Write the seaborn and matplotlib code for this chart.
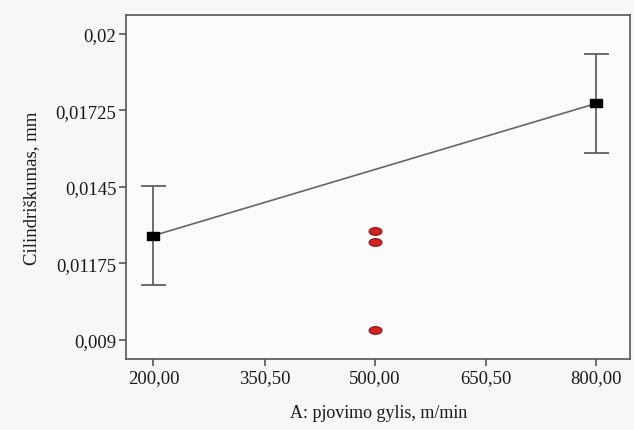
import matplotlib.pyplot as plt
import pandas as pd
import seaborn as sns
from matplotlib.markers import MarkerStyle
from matplotlib.transforms import Affine2D

# factor levels and predicted means with error bar half-widths
speed = [200.0, 800.0]
mean_cyl = [0.01275, 0.0175]
err_cyl = [0.00178, 0.00178]

# observed design points at the centre level
obs_speed = [500.0, 500.0, 500.0]
obs_cyl = [0.01291, 0.01251, 0.00936]

x_ticks = [200.0, 350.5, 500.0, 650.5, 800.0]
x_labels = ["200,00", "350,50", "500,00", "650,50", "800,00"]
y_ticks = [0.009, 0.01175, 0.0145, 0.01725, 0.02]
y_labels = ["0,009", "0,01175", "0,0145", "0,01725", "0,02"]

sns.set_style("white")
plt.rcParams["font.family"] = ["Liberation Serif", "DejaVu Serif"]

fig = plt.figure(figsize=(6.34, 4.31), dpi=100, facecolor="#f7f7f7")
ax = fig.add_axes([0.199, 0.165, 0.795, 0.798])
ax.set_facecolor("#fbfbfb")

df_line = pd.DataFrame({"speed": speed, "cyl": mean_cyl})
df_obs = pd.DataFrame({"speed": obs_speed, "cyl": obs_cyl})

sns.lineplot(data=df_line, x="speed", y="cyl", ax=ax, color="#666666", linewidth=1.2)
ax.errorbar(speed, mean_cyl, yerr=err_cyl, fmt="none", ecolor="#555555",
            elinewidth=1.2, capsize=9, capthick=1.2)

square = MarkerStyle("s", transform=Affine2D().scale(1.2, 0.9))
ax.scatter(df_line["speed"], df_line["cyl"], marker=square, s=45,
           color="black", zorder=5)
ellipse = MarkerStyle("o", transform=Affine2D().scale(1.5, 0.9))
ax.scatter(df_obs["speed"], df_obs["cyl"], marker=ellipse, s=38,
           color="#d42020", edgecolor="#8a1010", linewidth=0.8, zorder=5)

ax.set_xlim(163, 846)
ax.set_ylim(0.00832, 0.02068)
ax.set_xticks(x_ticks)
ax.set_xticklabels(x_labels)
ax.set_yticks(y_ticks)
ax.set_yticklabels(y_labels)
ax.tick_params(axis="both", direction="out", length=5, width=1.2, color="#555555",
               labelsize=13.5, labelcolor="#1a1a1a", bottom=True, left=True, pad=2)

for side in ["top", "right", "left", "bottom"]:
    ax.spines[side].set_visible(True)
    ax.spines[side].set_color("#555555")
    ax.spines[side].set_linewidth(1.2)

ax.set_xlabel("A: pjovimo gylis, m/min", fontsize=13, color="#1a1a1a", labelpad=13)
ax.set_ylabel("Cilindriškumas, mm", fontsize=13.5, color="#1a1a1a", labelpad=11)

fig.savefig("out.png", dpi=100, facecolor=fig.get_facecolor())
